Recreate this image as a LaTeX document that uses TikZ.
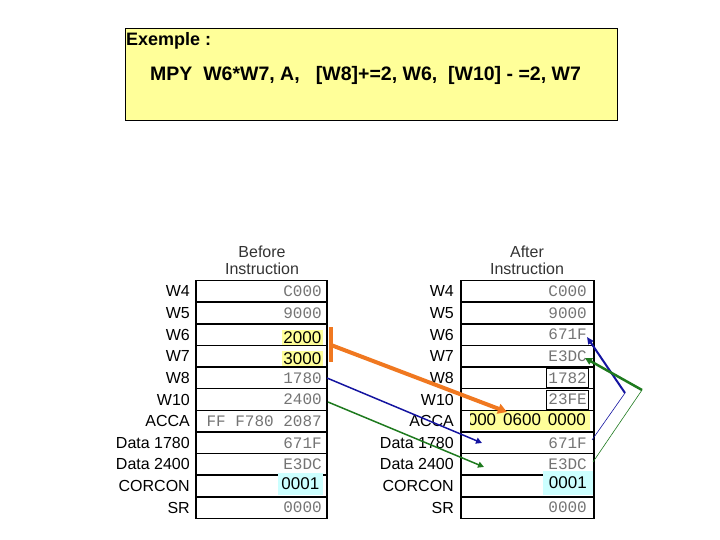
\documentclass[tikz,border=0pt]{standalone}
\usepackage{fontspec}
\setmainfont{Liberation Sans}
\newfontfamily\monof{Liberation Mono}
\usetikzlibrary{arrows.meta}
\definecolor{hly}{HTML}{FFFF99}
\definecolor{hlc}{HTML}{CCFFFF}
\definecolor{orng}{HTML}{F07820}
\definecolor{blu}{HTML}{1414A0}
\definecolor{grn}{HTML}{1E7A1E}
\definecolor{valg}{HTML}{747474}
\definecolor{hdrg}{HTML}{333333}
\begin{document}
\begin{tikzpicture}[x=1pt,y=-1pt,
  cellbox/.style={draw=black,line width=1.6pt,minimum height=21.64pt,inner sep=0pt},
  lbl/.style={anchor=east,inner sep=0pt,font=\fontsize{16}{19}\selectfont},
  val/.style={anchor=east,inner sep=0pt,text=valg,font=\monof\fontsize{16}{19}\selectfont},
  hdr/.style={inner sep=0pt,text=hdrg,font=\fontsize{16}{19}\selectfont},
  hlbox/.style={inner sep=1.5pt,font=\fontsize{17}{20}\selectfont},
  inbox/.style={draw=black,line width=0.6pt,minimum width=42pt,minimum height=19pt,inner sep=0pt}
]
\useasboundingbox (0,0) rectangle (720,540);
% top box
\node[draw=black,line width=0.8pt,fill=hly,minimum width=492pt,minimum height=92pt,inner sep=0pt] (top) at (371,74) {};
\node[anchor=west,inner sep=0pt,font=\bfseries\fontsize{18}{21}\selectfont] (ex) at (126,41) {Exemple :};
\node[anchor=west,inner sep=0pt,font=\bfseries\fontsize{19.5}{23}\selectfont] (mpy) at (150,75) {MPY\ \ W6*W7, A,\ \ \ [W8]+=2, W6,\ \ [W10] - =2, W7};
% headers
\node[hdr] (bh1) at (262,252) {Before};
\node[hdr] (bh2) at (262,269) {Instruction};
\node[hdr] (ah1) at (527,252) {After};
\node[hdr] (ah2) at (527,269) {Instruction};
% cells
\foreach \i in {0,...,10}{
  \node[cellbox,minimum width=131pt] (b\i) at (261.5,{291.3+21.64*\i}) {};
  \node[cellbox,minimum width=133pt] (a\i) at (527.5,{291.3+21.64*\i}) {};
}
% labels
\foreach \i/\t in {0/W4,1/W5,2/W6,3/W7,4/W8,5/W10,6/ACCA,7/Data 1780,8/Data 2400,9/CORCON,10/SR}{
  \node[lbl] (bl\i) at (190,{291.3+21.64*\i}) {\t};
  \node[lbl] (al\i) at (454,{291.3+21.64*\i}) {\t};
}
% before values
\foreach \i/\t in {0/C000,1/9000,4/1780,5/2400,6/FF F780 2087,7/671F,8/E3DC,10/0000}{
  \node[val] (bv\i) at (322,{291.3+21.64*\i}) {\t};
}
\foreach \i/\t in {0/C000,1/9000,2/671F,3/E3DC,4/1782,5/23FE,7/671F,8/E3DC,10/0000}{
  \node[val] (av\i) at (587,{291.3+21.64*\i}) {\t};
}
\node[inbox] (ib4) at (567,{291.3+21.64*4}) {};
\node[inbox] (ib5) at (567,{291.3+21.64*5}) {};
% highlights before
\node[hlbox,fill=hly,anchor=south east] (h2) at (323,345) {2000};
\node[hlbox,fill=hly,anchor=south east] (h3) at (323,366) {3000};
\node[hlbox,fill=hlc,minimum width=45pt,minimum height=22pt,anchor=south east] (c9) at (323,495) {0001};
\node[hlbox,fill=hlc,minimum width=50pt,minimum height=24pt,anchor=south east] (ac9) at (593,495) {0001};
% ACCA after
\begin{scope}
  \clip (470,405) rectangle (593,432);
  \node[hlbox,fill=hly,anchor=east,minimum height=19pt,inner xsep=4pt] (acc) at (590,420) {000\hspace{7pt}0600\hspace{7pt}0000};
\end{scope}
% orange bracket and arrow
\coordinate (ob1) at (331,327);
\coordinate (ob2) at (331,362);
\draw[orng,line width=4.5pt] (ob1) -- (ob2);
\coordinate (os) at (331,345);
\coordinate (oe) at (507,412);
\draw[orng,line width=4pt,-{Triangle[length=9pt,width=10pt]}] (os) -- (oe);
% blue arrow
\coordinate (bs) at (327,378);
\coordinate (be) at (482,443);
\draw[blu,line width=1.5pt,-{Triangle[length=6pt,width=6pt]}] (bs) -- (be);
% green arrow
\coordinate (gs) at (328,402);
\coordinate (ge) at (484,467);
\draw[grn,line width=1.5pt,-{Triangle[length=6pt,width=6pt]}] (gs) -- (ge);
% right side
\coordinate (rb1) at (592,440);
\coordinate (rb2) at (625,393);
\coordinate (rb3) at (587,337);
\draw[blu,line width=0.6pt] (rb1) -- (rb2);
\draw[blu,line width=2pt,-{Triangle[length=7pt,width=6pt]}] (rb2) -- (rb3);
\coordinate (rg1) at (593,462);
\coordinate (rg2) at (642,390);
\coordinate (rg3) at (585,358);
\draw[grn,line width=0.6pt] (rg1) -- (rg2);
\draw[grn,line width=2.5pt,-{Triangle[length=7pt,width=7pt]}] (rg2) -- (rg3);
\end{tikzpicture}
\end{document}
